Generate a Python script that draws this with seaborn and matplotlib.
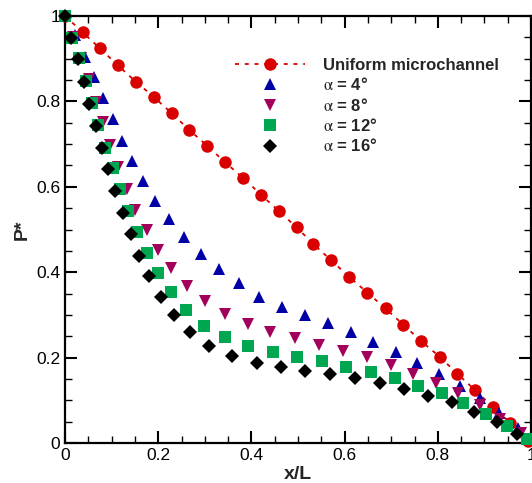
import matplotlib
matplotlib.use("Agg")
import matplotlib.pyplot as plt
from matplotlib.ticker import AutoMinorLocator, FixedLocator
import seaborn as sns

# ---------------- data ----------------
uniform_x = [0, 0.038, 0.075, 0.113, 0.152, 0.191, 0.229, 0.267, 0.305, 0.344,
             0.383, 0.421, 0.459, 0.497, 0.533, 0.570, 0.610, 0.649, 0.688, 0.726,
             0.765, 0.805, 0.842, 0.880, 0.918, 0.955, 0.994]
uniform_y = [1.0, 0.962, 0.924, 0.885, 0.846, 0.810, 0.772, 0.733, 0.696, 0.657,
             0.620, 0.581, 0.543, 0.505, 0.466, 0.429, 0.389, 0.352, 0.315, 0.277,
             0.238, 0.201, 0.162, 0.124, 0.084, 0.048, 0.005]

a4_x = [0, 0.021, 0.043, 0.063, 0.081, 0.102, 0.122, 0.144, 0.168, 0.193,
        0.223, 0.256, 0.292, 0.331, 0.373, 0.417, 0.465, 0.514, 0.564, 0.613,
        0.662, 0.710, 0.755, 0.803, 0.848, 0.891, 0.932, 0.973]
a4_y = [1.0, 0.955, 0.905, 0.856, 0.807, 0.758, 0.708, 0.660, 0.614, 0.567,
        0.524, 0.482, 0.443, 0.407, 0.374, 0.343, 0.319, 0.300, 0.280, 0.259,
        0.237, 0.214, 0.187, 0.162, 0.133, 0.105, 0.070, 0.036]

a8_x = [0, 0.017, 0.034, 0.052, 0.066, 0.081, 0.097, 0.114, 0.132, 0.150,
        0.175, 0.200, 0.227, 0.261, 0.300, 0.343, 0.392, 0.439, 0.494, 0.546,
        0.597, 0.647, 0.699, 0.747, 0.796, 0.843, 0.891, 0.933, 0.978]
a8_y = [1.0, 0.950, 0.901, 0.852, 0.799, 0.751, 0.698, 0.646, 0.596, 0.546,
        0.499, 0.452, 0.409, 0.368, 0.333, 0.301, 0.279, 0.261, 0.245, 0.230,
        0.215, 0.201, 0.183, 0.162, 0.141, 0.116, 0.089, 0.056, 0.024]

a12_x = [0, 0.014, 0.030, 0.045, 0.057, 0.070, 0.086, 0.102, 0.119, 0.135,
         0.154, 0.175, 0.199, 0.227, 0.260, 0.298, 0.343, 0.392, 0.446, 0.497,
         0.551, 0.602, 0.656, 0.708, 0.757, 0.808, 0.855, 0.903, 0.948, 0.991]
a12_y = [1.0, 0.948, 0.901, 0.848, 0.797, 0.745, 0.692, 0.643, 0.594, 0.543,
         0.493, 0.446, 0.399, 0.354, 0.311, 0.274, 0.249, 0.227, 0.214, 0.202,
         0.193, 0.179, 0.167, 0.153, 0.134, 0.116, 0.094, 0.068, 0.040, 0.009]

a16_x = [0, 0.013, 0.027, 0.041, 0.052, 0.066, 0.080, 0.093, 0.107, 0.124,
         0.141, 0.159, 0.181, 0.205, 0.234, 0.268, 0.310, 0.359, 0.411, 0.464,
         0.516, 0.569, 0.622, 0.675, 0.727, 0.780, 0.830, 0.878, 0.926, 0.971]
a16_y = [1.0, 0.948, 0.899, 0.845, 0.793, 0.742, 0.690, 0.641, 0.589, 0.538,
         0.489, 0.439, 0.390, 0.343, 0.299, 0.259, 0.226, 0.204, 0.188, 0.179,
         0.169, 0.161, 0.152, 0.140, 0.126, 0.111, 0.095, 0.073, 0.050, 0.020]

series_labels = ["Uniform microchannel", r"$\mathrm{\alpha}$ = 4°",
                 r"$\mathrm{\alpha}$ = 8°", r"$\mathrm{\alpha}$ = 12°",
                 r"$\mathrm{\alpha}$ = 16°"]

xtick_vals = [0, 0.2, 0.4, 0.6, 0.8, 1.0]
xtick_labels = ["0", "0.2", "0.4", "0.6", "0.8", "1"]
ytick_vals = [0, 0.2, 0.4, 0.6, 0.8, 1.0]
ytick_labels = ["0", "0.2", "0.4", "0.6", "0.8", "1"]

# ---------------- style ----------------
sns.set_style("ticks")
plt.rcParams["font.family"] = ["Liberation Sans", "DejaVu Sans"]
plt.rcParams["mathtext.fontset"] = "stix"

fig = plt.figure(figsize=(5.32, 4.83), dpi=100)
ax = fig.add_axes([65 / 532, 1 - 443 / 483, (531 - 65) / 532, (443 - 16) / 483])

red = "#d90000"
blue = "#0000a6"
purple = "#a3005c"
green = "#00a650"
black = "#000000"

sns.lineplot(x=uniform_x, y=uniform_y, ax=ax, color=red, marker="o",
             markersize=9, markeredgewidth=0, markeredgecolor=red,
             linestyle=(0, (2.2, 3.2)), linewidth=1.3, clip_on=False,
             label=series_labels[0], zorder=3)
specs = [(a4_x, a4_y, blue, "^", 8.5), (a8_x, a8_y, purple, "v", 8.5),
         (a12_x, a12_y, green, "s", 8), (a16_x, a16_y, black, "D", 7)]
for i, (xs, ys, c, m, ms) in enumerate(specs):
    sns.lineplot(x=xs, y=ys, ax=ax, color=c, marker=m, markersize=ms,
                 markeredgewidth=0, markeredgecolor=c, linestyle="",
                 clip_on=False, label=series_labels[i + 1], zorder=4 + i)

ax.set_xlim(0, 1)
ax.set_ylim(0, 1)
ax.xaxis.set_major_locator(FixedLocator(xtick_vals))
ax.set_xticklabels(xtick_labels)
ax.yaxis.set_major_locator(FixedLocator(ytick_vals))
ax.set_yticklabels(ytick_labels)
ax.xaxis.set_minor_locator(AutoMinorLocator(4))
ax.yaxis.set_minor_locator(AutoMinorLocator(4))
ax.tick_params(which="both", direction="in", top=True, right=True,
               colors="black", labelsize=12.5, pad=3.5)
ax.tick_params(which="major", length=8.5, width=1.5)
ax.tick_params(which="minor", length=5, width=1.0)
for sp in ax.spines.values():
    sp.set_linewidth(1.6)
    sp.set_color("black")

ax.set_xlabel("x/L", fontsize=14, fontweight="bold", labelpad=2)
ax.set_ylabel("P*", fontsize=14, fontweight="bold", labelpad=4)

leg = ax.legend(loc="upper left", bbox_to_anchor=(235 / 532, 1 - 58 / 483),
                bbox_transform=fig.transFigure, frameon=False,
                prop={"weight": "bold", "size": 12}, handlelength=4.2,
                handletextpad=1.1, labelspacing=0.2, borderpad=0,
                borderaxespad=0)

fig.savefig("out.png", dpi=100)
